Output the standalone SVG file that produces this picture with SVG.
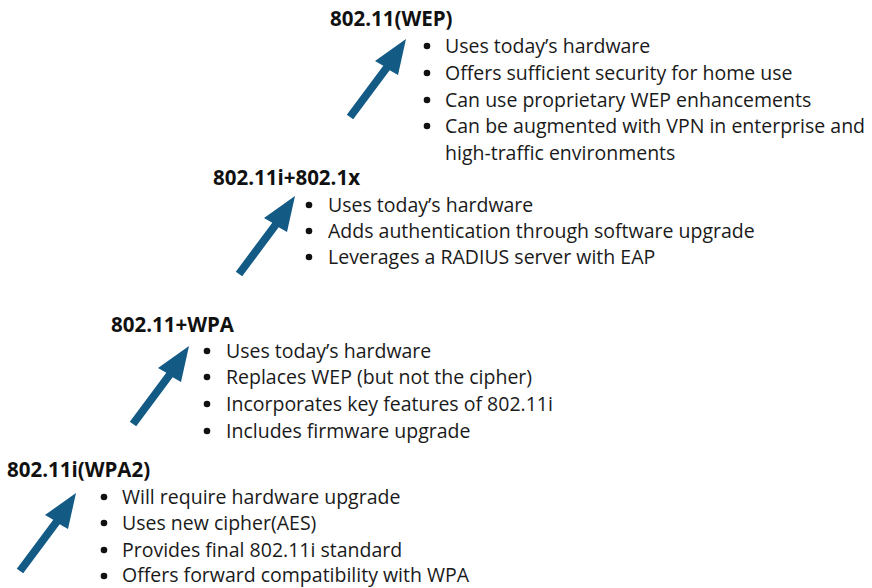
<svg xmlns="http://www.w3.org/2000/svg" width="872" height="588" viewBox="0 0 872 588">
  <defs>
    <style>
      .title { font-family: "Open Sans", "Noto Sans", "Liberation Sans", sans-serif; font-weight: bold; font-size: 20.5px; fill: #111; }
      .item { font-family: "Open Sans", "Noto Sans", "Liberation Sans", sans-serif; font-size: 19.5px; fill: #1a1a1a; }
      .dot { fill: #111; }
      .arrow { fill: #135a85; }
    </style>
    <!-- Arrow with its tip at the origin, pointing up and to the right -->
    <polygon id="up-arrow" class="arrow" points="0,0 -8,36 -16.3,31.3 -52.8,80.3 -59.2,75.7 -22.7,26.7 -31,22"/>
  </defs>

  <g id="connectors">
    <use href="#up-arrow" transform="translate(406,39)"/>
    <use href="#up-arrow" transform="translate(295,196)"/>
    <use href="#up-arrow" transform="translate(189,346)"/>
    <use href="#up-arrow" transform="translate(76,493)"/>
  </g>

  <g id="wep">
    <text class="title" x="330" y="26">802.11(WEP)</text>
    <circle class="dot" cx="427" cy="46" r="3.3"/>
    <circle class="dot" cx="427" cy="73" r="3.3"/>
    <circle class="dot" cx="427" cy="100" r="3.3"/>
    <circle class="dot" cx="427" cy="126" r="3.3"/>
    <text class="item" x="445" y="53">Uses today’s hardware</text>
    <text class="item" x="445" y="80">Offers sufficient security for home use</text>
    <text class="item" x="445" y="107">Can use proprietary WEP enhancements</text>
    <text class="item" x="445" y="133">Can be augmented with VPN in enterprise and</text>
    <text class="item" x="445" y="160">high-traffic environments</text>
  </g>

  <g id="i-8021x">
    <text class="title" x="213" y="185">802.11i+802.1x</text>
    <circle class="dot" cx="309" cy="205" r="3.3"/>
    <circle class="dot" cx="309" cy="231" r="3.3"/>
    <circle class="dot" cx="309" cy="257" r="3.3"/>
    <text class="item" x="328" y="212">Uses today’s hardware</text>
    <text class="item" x="328" y="238">Adds authentication through software upgrade</text>
    <text class="item" x="328" y="264">Leverages a RADIUS server with EAP</text>
  </g>

  <g id="wpa">
    <text class="title" x="111" y="332">802.11+WPA</text>
    <circle class="dot" cx="207" cy="351" r="3.3"/>
    <circle class="dot" cx="207" cy="377" r="3.3"/>
    <circle class="dot" cx="207" cy="404" r="3.3"/>
    <circle class="dot" cx="207" cy="431" r="3.3"/>
    <text class="item" x="226" y="358">Uses today’s hardware</text>
    <text class="item" x="226" y="384">Replaces WEP (but not the cipher)</text>
    <text class="item" x="226" y="411">Incorporates key features of 802.11i</text>
    <text class="item" x="226" y="438">Includes firmware upgrade</text>
  </g>

  <g id="wpa2">
    <text class="title" x="7" y="477">802.11i(WPA2)</text>
    <circle class="dot" cx="104" cy="497" r="3.3"/>
    <circle class="dot" cx="104" cy="523" r="3.3"/>
    <circle class="dot" cx="104" cy="550" r="3.3"/>
    <circle class="dot" cx="104" cy="576" r="3.3"/>
    <text class="item" x="122" y="504">Will require hardware upgrade</text>
    <text class="item" x="122" y="530">Uses new cipher(AES)</text>
    <text class="item" x="122" y="557">Provides final 802.11i standard</text>
    <text class="item" x="122" y="582">Offers forward compatibility with WPA</text>
  </g>
</svg>
